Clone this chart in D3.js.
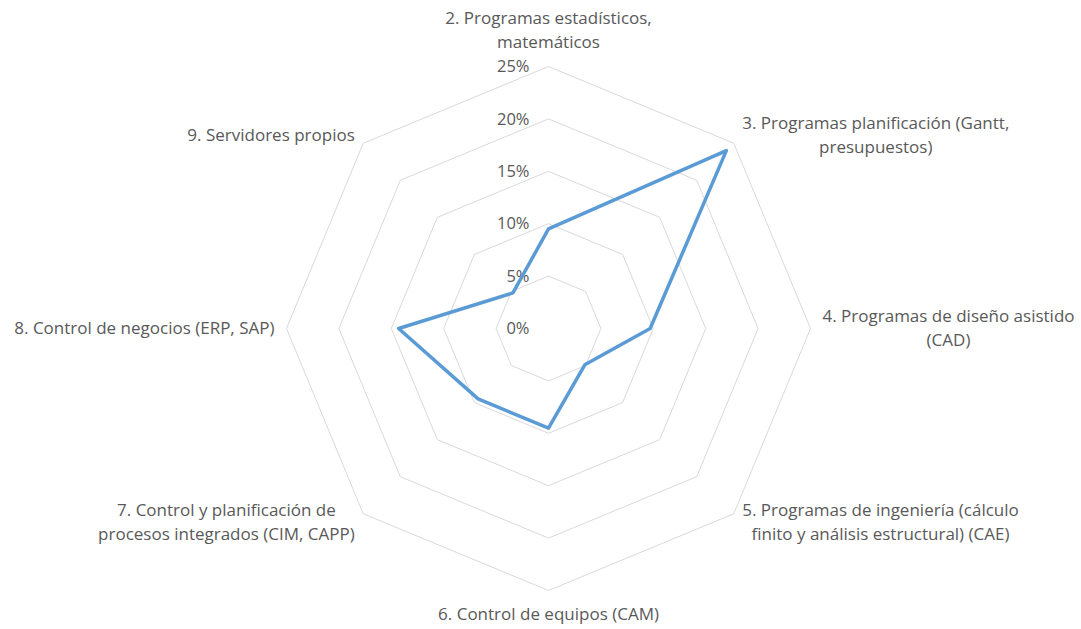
<!DOCTYPE html>
<html>
<head>
<meta charset="utf-8">
<script src="https://cdn.jsdelivr.net/npm/d3@7"></script>
<style>
  body { margin: 0; background: #fff; }
  svg { display: block; }
  text { font-family: "Open Sans", "Liberation Sans", Arial, sans-serif; fill: #595959; }
</style>
</head>
<body>
<svg width="1081" height="629"></svg>
<script>
var categories = [
  ["2. Programas estadísticos,", "matemáticos"],
  ["3. Programas planificación (Gantt,", "presupuestos)"],
  ["4. Programas de diseño asistido", "(CAD)"],
  ["5. Programas de ingeniería (cálculo", "finito y análisis estructural) (CAE)"],
  ["6. Control de equipos (CAM)"],
  ["7. Control y planificación de", "procesos integrados (CIM, CAPP)"],
  ["8. Control de negocios (ERP, SAP)"],
  ["9. Servidores propios"]
];
var values = [9.5, 24.0, 9.7, 4.9, 9.5, 9.5, 14.3, 4.8];
var ticks = [0, 5, 10, 15, 20, 25];

var svg = d3.select("svg"),
    cx = 548.5,
    cy = 328.5,
    R = 262;

var r = d3.scaleLinear()
    .domain([0, 25])
    .range([0, R]);

var angle = d3.scaleLinear()
    .domain([0, categories.length])
    .range([0, 2 * Math.PI]);

var g = svg.append("g").attr("transform", "translate(" + cx + "," + cy + ")");

function pt(i, v) {
  var a = angle(i);
  return [r(v) * Math.sin(a), -r(v) * Math.cos(a)];
}

// octagon grid
g.selectAll("polygon.grid")
  .data(ticks.slice(1))
  .enter().append("polygon")
    .attr("class", "grid")
    .attr("points", function(t) {
      return categories.map(function(c, i) { return pt(i, t).join(","); }).join(" ");
    })
    .attr("fill", "none")
    .attr("stroke", "#d9d9d9")
    .attr("stroke-width", 1);

// tick labels
g.selectAll("text.tick")
  .data(ticks)
  .enter().append("text")
    .attr("class", "tick")
    .attr("x", -19)
    .attr("y", function(t) { return -r(t); })
    .attr("dy", "0.35em")
    .attr("text-anchor", "end")
    .style("font-size", "16.5px")
    .text(function(t) { return t + "%"; });

// series line
var line = d3.line()
    .x(function(d, i) { return pt(i, d)[0]; })
    .y(function(d, i) { return pt(i, d)[1]; })
    .curve(d3.curveLinearClosed);

g.append("path")
    .datum(values)
    .attr("d", line)
    .attr("fill", "none")
    .attr("stroke", "#5b9bd5")
    .attr("stroke-width", 3.5)
    .attr("stroke-linejoin", "round");

// category labels
var lineH = 24;
categories.forEach(function(lines, i) {
  var a = angle(i),
      sx = Math.sin(a),
      sy = -Math.cos(a),
      p = [(R + 12) * sx, (R + 12) * sy];

  var lab = g.append("g");
  var texts = lab.selectAll("text")
    .data(lines)
    .enter().append("text")
      .attr("text-anchor", "middle")
      .attr("dy", "0.35em")
      .style("font-size", "17px")
      .text(function(d) { return d; });

  var w = d3.max(texts.nodes(), function(n) { return n.getComputedTextLength(); }),
      h = lines.length * lineH;

  var left;
  if (Math.abs(sx) < 0.01) left = p[0] - w / 2;
  else if (sx > 0) left = p[0];
  else left = p[0] - w;

  var top;
  if (Math.abs(sy) < 0.01) top = p[1] - h / 2;
  else if (Math.abs(sx) > 0.01) top = p[1] - h / 2;
  else if (sy < 0) top = p[1] - h;
  else top = p[1];

  texts
    .attr("x", left + w / 2)
    .attr("y", function(d, j) { return top + lineH / 2 + j * lineH; });
});
</script>
</body>
</html>
